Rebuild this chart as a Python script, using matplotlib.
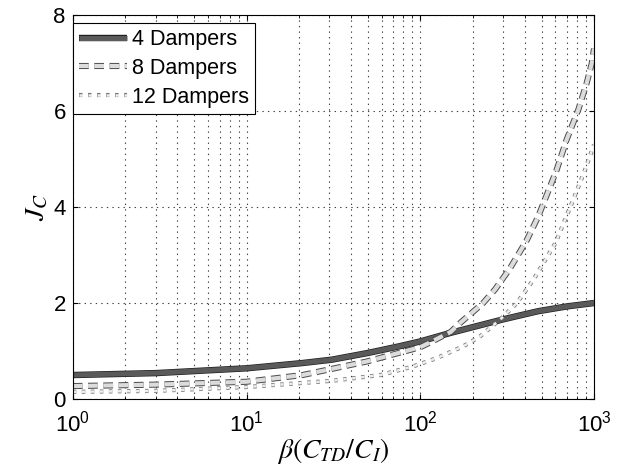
import numpy as np
import matplotlib
matplotlib.use("Agg")
import matplotlib.pyplot as plt
import matplotlib.patheffects as pe

plt.rcParams['font.family'] = ['Liberation Sans', 'DejaVu Sans']
plt.rcParams['mathtext.fontset'] = 'stix'
plt.rcParams['lines.scale_dashes'] = False

# Data
beta4 = [1, 3, 10, 21, 31, 50, 76, 100, 150, 212, 300, 477, 700, 1000]
j4 = [0.50, 0.54, 0.64, 0.75, 0.82, 0.96, 1.10, 1.20, 1.38, 1.52, 1.66, 1.83, 1.93, 2.00]
beta8 = [1, 3, 10, 21, 49, 100, 114, 150, 169, 230, 269, 328, 409, 477, 521, 609, 695, 811, 907, 969, 1000]
j8 = [0.27, 0.30, 0.36, 0.50, 0.78, 1.08, 1.18, 1.40, 1.58, 2.00, 2.28, 2.72, 3.30, 3.80, 4.15, 4.77, 5.40, 6.02, 6.58, 6.98, 7.30]
beta12 = [1, 3, 10, 31, 59, 91, 124, 177, 220, 287, 358, 447, 600, 759, 887, 1000]
j12 = [0.15, 0.17, 0.25, 0.38, 0.50, 0.68, 0.85, 1.10, 1.30, 1.65, 1.99, 2.48, 3.25, 4.15, 4.77, 5.30]
labels = ['4 Dampers', '8 Dampers', '12 Dampers']

fig = plt.figure(figsize=(6.22, 4.70), dpi=100)
ax = fig.add_axes([0.117, 0.151, 0.838, 0.817])

ax.plot(beta4, j4, color='#5a5a5a', lw=3.6, label=labels[0], solid_capstyle='butt',
        path_effects=[pe.Stroke(linewidth=4.6, foreground='#1e1e1e'), pe.Normal()])
ax.plot(beta8, j8, color='#dcdcdc', lw=3.0, ls=(0, (7, 4)), label=labels[1],
        path_effects=[pe.Stroke(linewidth=4.4, foreground='#4a4a4a'), pe.Normal()])
ax.plot(beta12, j12, color='#eeeeee', lw=1.8, ls=(0, (2.5, 4)), label=labels[2],
        path_effects=[pe.Stroke(linewidth=3.0, foreground='#7a7a7a'), pe.Normal()])

ax.set_xscale('log')
ax.set_xlim(1, 1000)
ax.set_ylim(0, 8)
ax.set_yticks([0, 2, 4, 6, 8])
ax.grid(True, which='major', ls=(0, (1, 3)), color='#444444', lw=0.8)
ax.grid(True, which='minor', axis='x', ls=(0, (1, 3)), color='#444444', lw=0.8)
ax.tick_params(direction='in', which='both', labelsize=16, top=True, right=True)
ax.tick_params(axis='x', pad=8)
ax.tick_params(axis='y', pad=5)

ax.set_xlabel(r'$\beta(C_{TD}/C_I)$', fontsize=20, labelpad=0)
ax.set_ylabel(r'$J_C$', fontsize=20, labelpad=2)

leg = ax.legend(loc='upper left', bbox_to_anchor=(0.0, 1 - 8 / 384), borderaxespad=0.0,
                fontsize=15.5, frameon=True, fancybox=False, framealpha=1,
                edgecolor='black', handlelength=2.2, labelspacing=0.35,
                borderpad=0.3, handletextpad=0.25)
leg.get_frame().set_linewidth(0.8)

fig.savefig('out.png', dpi=100)
